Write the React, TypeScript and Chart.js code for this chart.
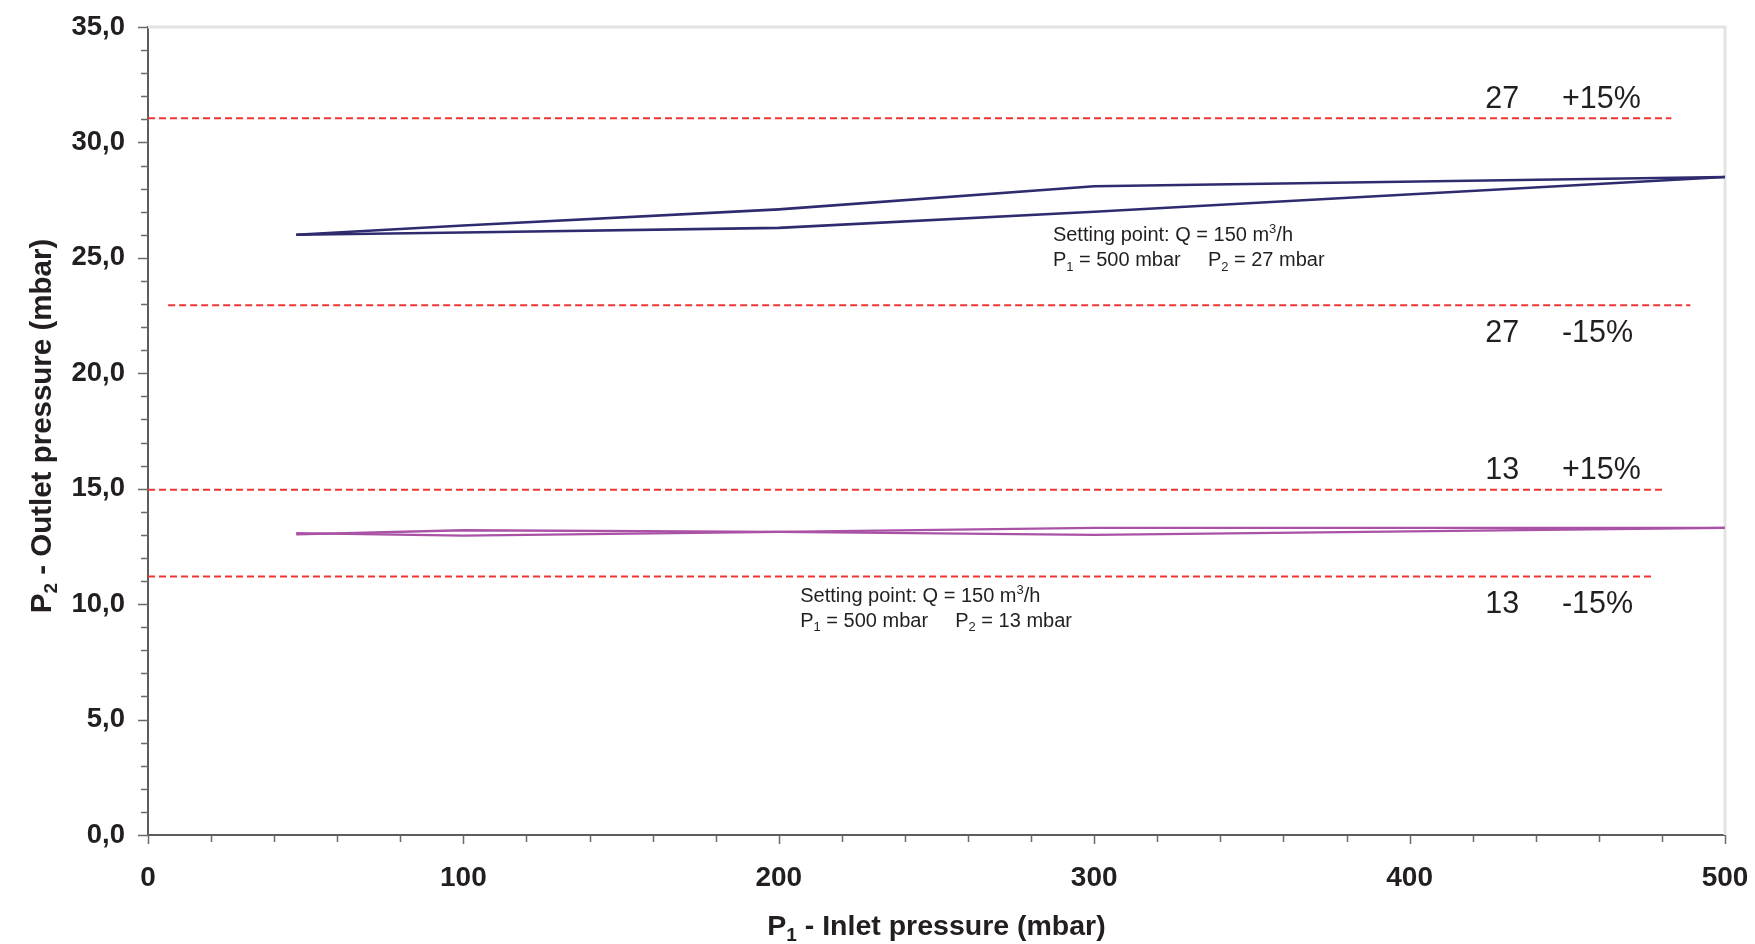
import React, { useEffect, useRef } from 'react';
import { Chart, registerables } from 'chart.js';

Chart.register(...registerables);

// P1 inlet pressure (mbar) at the measured points
const inletPressure = [47, 100, 200, 300, 500];
// Set point 27 mbar: the two branches of the curve
const outlet27Upper = [26.0, 26.4, 27.1, 28.1, 28.5];
const outlet27Lower = [26.0, 26.1, 26.3, 27.0, 28.5];
// Set point 13 mbar: the two branches of the curve
const outlet13Upper = [13.02, 13.2, 13.13, 13.3, 13.3];
const outlet13Lower = [13.08, 12.97, 13.13, 13.0, 13.3];

// +/-15 % limit lines
const limitValues = [31.05, 22.95, 14.95, 11.2];
const limitFrom = [0, 6.4, 0, 0];
const limitTo = [483, 489, 481, 477.6];
const limitSetpoints = ['27', '27', '13', '13'];
const limitPercents = ['+15%', '-15%', '+15%', '-15%'];

// axis ticks
const xMajorStep = 100;
const xMinorStep = 20;
const yMajorStep = 5;
const yMinorStep = 1;

// texts
const xTitle = [{ t: 'P' }, { t: '1', sub: true }, { t: ' - Inlet pressure (mbar)' }];
const yTitle = [{ t: 'P' }, { t: '2', sub: true }, { t: ' - Outlet pressure (mbar)' }];
const settingPointFlow = '150';
const settingPointInlet = '500';
const settingPointOutlets = ['27', '13'];

const FONT = '"Liberation Sans", Arial, Helvetica, sans-serif';
const NAVY = '#2e2b6e';
const MAGENTA = '#aa52a6';
const RED = '#ef3434';
const TEXT = '#231f20';

type Run = { t: string; sub?: boolean; sup?: boolean };

function runsWidth(ctx: CanvasRenderingContext2D, runs: Run[], size: number, weight: string) {
  let w = 0;
  for (const r of runs) {
    ctx.font = `${weight} ${r.sub || r.sup ? Math.round(size * 0.65) : size}px ${FONT}`;
    w += ctx.measureText(r.t).width;
  }
  return w;
}

function drawRuns(
  ctx: CanvasRenderingContext2D,
  runs: Run[],
  x: number,
  y: number,
  size: number,
  weight: string,
  align: 'left' | 'center'
) {
  const w = runsWidth(ctx, runs, size, weight);
  let cx = align === 'center' ? x - w / 2 : x;
  ctx.textAlign = 'left';
  ctx.textBaseline = 'alphabetic';
  for (const r of runs) {
    ctx.font = `${weight} ${r.sub || r.sup ? Math.round(size * 0.65) : size}px ${FONT}`;
    const dy = r.sub ? size * 0.22 : r.sup ? -size * 0.42 : 0;
    ctx.fillText(r.t, cx, y + dy);
    cx += ctx.measureText(r.t).width;
  }
}

const overlay = {
  id: 'overlay',
  beforeDatasetsDraw(chart: any) {
    const { ctx, chartArea: a } = chart;
    ctx.save();
    ctx.strokeStyle = '#e3e3e3';
    ctx.lineWidth = 3;
    ctx.beginPath();
    ctx.moveTo(a.left, a.top);
    ctx.lineTo(a.right, a.top);
    ctx.lineTo(a.right, a.bottom);
    ctx.stroke();
    ctx.restore();
  },
  afterDraw(chart: any) {
    const { ctx, chartArea: a, scales } = chart;
    const x = scales.x;
    const y = scales.y;
    ctx.save();
    // tick marks
    ctx.strokeStyle = '#6a6a6a';
    ctx.lineWidth = 1.5;
    ctx.beginPath();
    for (let v = x.min; v <= x.max + 1e-9; v += xMinorStep) {
      const px = Math.round(x.getPixelForValue(v)) + 0.5;
      const len = Math.abs(v % xMajorStep) < 1e-9 ? 9 : 7;
      ctx.moveTo(px, a.bottom);
      ctx.lineTo(px, a.bottom + len);
    }
    for (let v = y.min; v <= y.max + 1e-9; v += yMinorStep) {
      const py = Math.round(y.getPixelForValue(v)) + 0.5;
      const len = Math.abs(v % yMajorStep) < 1e-9 ? 10 : 7;
      ctx.moveTo(a.left - len, py);
      ctx.lineTo(a.left, py);
    }
    ctx.stroke();

    ctx.fillStyle = TEXT;
    // limit labels
    for (let i = 0; i < limitValues.length; i++) {
      const py = y.getPixelForValue(limitValues[i]);
      const base = limitPercents[i].startsWith('+') ? py - 10.5 : py + 36.5;
      ctx.font = `30.5px ${FONT}`;
      ctx.textAlign = 'left';
      ctx.textBaseline = 'alphabetic';
      ctx.fillText(limitSetpoints[i], x.getPixelForValue(424), base);
      ctx.fillText(limitPercents[i], x.getPixelForValue(448.3), base);
    }

    // setting point notes
    const notes = [
      { xv: 286.9, yv: 25.71 },
      { xv: 206.8, yv: 10.09 },
    ];
    notes.forEach((n, i) => {
      const px = x.getPixelForValue(n.xv);
      const py = y.getPixelForValue(n.yv);
      drawRuns(
        ctx,
        [{ t: `Setting point: Q = ${settingPointFlow} m` }, { t: '3', sup: true }, { t: '/h' }],
        px,
        py,
        20,
        'normal',
        'left'
      );
      drawRuns(ctx, [{ t: 'P' }, { t: '1', sub: true }, { t: ` = ${settingPointInlet} mbar` }], px, py + 25, 20, 'normal', 'left');
      drawRuns(ctx, [{ t: 'P' }, { t: '2', sub: true }, { t: ` = ${settingPointOutlets[i]} mbar` }], px + 155, py + 25, 20, 'normal', 'left');
    });

    // axis titles
    drawRuns(ctx, xTitle, (a.left + a.right) / 2, 935, 28.5, 'bold', 'center');
    ctx.save();
    ctx.translate(50.5, (a.top + a.bottom) / 2 - 5);
    ctx.rotate(-Math.PI / 2);
    drawRuns(ctx, yTitle, 0, 0, 29.5, 'bold', 'center');
    ctx.restore();

    ctx.restore();
  },
};

export default function App() {
  const ref = useRef<HTMLCanvasElement | null>(null);

  useEffect(() => {
    document.body.style.margin = '0';
    document.body.style.overflow = 'hidden';
    const canvas = ref.current;
    if (!canvas) return;

    const pts = (ys: number[]) => inletPressure.map((xv, i) => ({ x: xv, y: ys[i] }));
    const line = (ys: number[], color: string, width: number) => ({
      data: pts(ys),
      borderColor: color,
      backgroundColor: color,
      borderWidth: width,
      showLine: true,
      pointRadius: 0,
      tension: 0,
      fill: false,
    });
    const limits = limitValues.map((v, i) => ({
      data: [
        { x: limitFrom[i], y: v },
        { x: limitTo[i], y: v },
      ],
      borderColor: RED,
      backgroundColor: RED,
      borderWidth: 2,
      borderDash: [7, 4],
      showLine: true,
      pointRadius: 0,
      fill: false,
    }));

    const tickFont = { family: FONT, weight: 'bold' as const };

    const chart = new Chart(canvas, {
      type: 'scatter',
      data: {
        datasets: [
          ...limits,
          line(outlet27Upper, NAVY, 2.6),
          line(outlet27Lower, NAVY, 2.6),
          line(outlet13Upper, MAGENTA, 2.3),
          line(outlet13Lower, MAGENTA, 2.3),
        ] as any,
      },
      options: {
        responsive: false,
        animation: false,
        devicePixelRatio: 1,
        layout: { padding: { left: 0, right: 30, top: 27, bottom: 0 } },
        plugins: {
          legend: { display: false },
          tooltip: { enabled: false },
          title: { display: false },
        },
        scales: {
          x: {
            type: 'linear',
            min: 0,
            max: 500,
            grid: { display: false, drawTicks: false },
            border: { display: true, color: '#5c5c5c', width: 2 },
            ticks: {
              stepSize: xMajorStep,
              padding: 26,
              color: TEXT,
              font: { ...tickFont, size: 28 },
              callback: (v: any) => String(v),
            },
            afterFit: (s: any) => {
              s.height = 109;
              s.paddingLeft = 0;
              s.paddingRight = 0;
            },
          },
          y: {
            type: 'linear',
            min: 0,
            max: 35,
            grid: { display: false, drawTicks: false },
            border: { display: true, color: '#5c5c5c', width: 2 },
            ticks: {
              stepSize: yMajorStep,
              padding: 23,
              color: TEXT,
              font: { ...tickFont, size: 27.5 },
              callback: (v: any) => Number(v).toFixed(1).replace('.', ','),
            },
            afterFit: (s: any) => {
              s.width = 148;
              s.paddingTop = 0;
              s.paddingBottom = 0;
            },
          },
        },
      } as any,
      plugins: [overlay],
    });

    return () => chart.destroy();
  }, []);

  return (
    <div style={{ width: 1755, height: 944 }}>
      <canvas ref={ref} width={1755} height={944} style={{ display: 'block', width: 1755, height: 944 }} />
    </div>
  );
}
